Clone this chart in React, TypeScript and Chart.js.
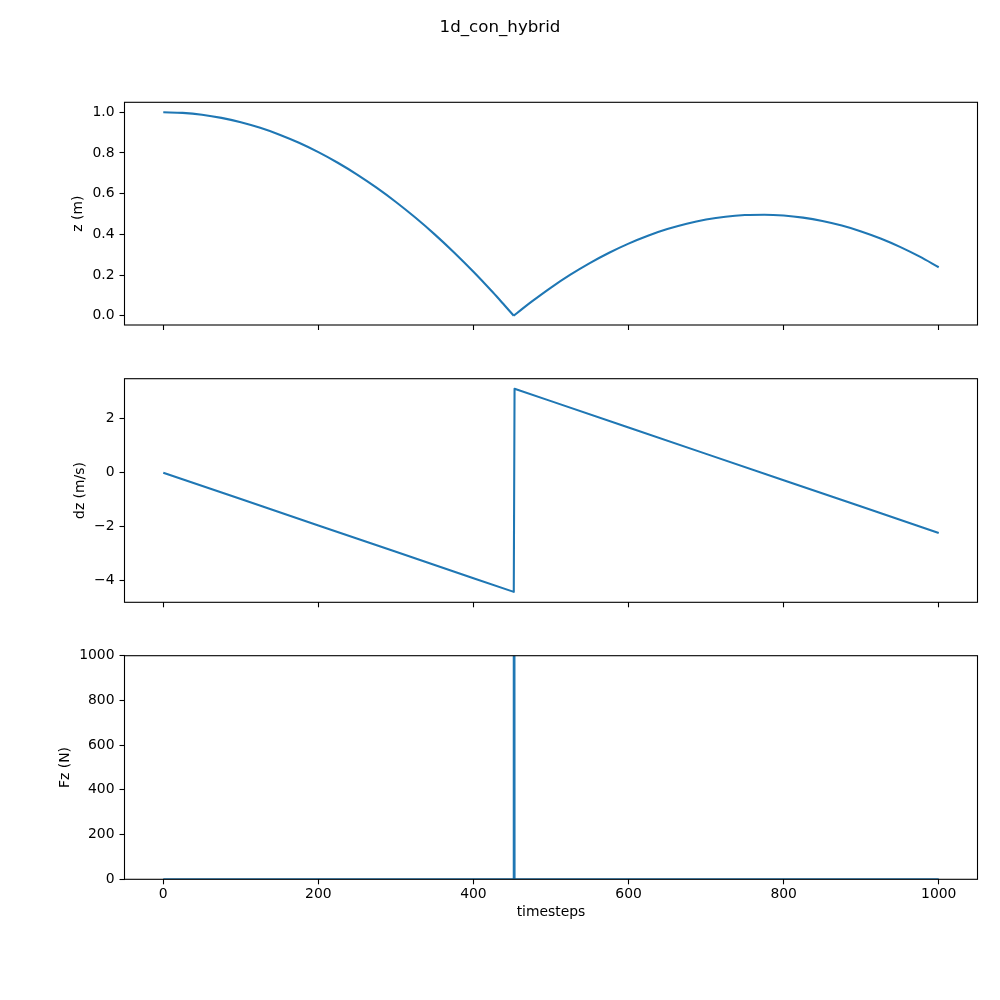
import React, { useEffect, useRef } from 'react';
import { Chart, registerables } from 'chart.js';

Chart.register(...registerables);

const suptitle = '1d_con_hybrid';
const xLabel = 'timesteps';
const xTicks = [0, 200, 400, 600, 800, 1000];

const zLabel = 'z (m)';
const zTicks = [0, 0.2, 0.4, 0.6, 0.8, 1.0];
// falling phase (before the contact)
const zFallSteps = [0, 25, 50, 75, 100, 125, 150, 175, 200, 225, 250, 275, 300, 325, 350, 375, 400, 425, 440, 452];
const zFallValues = [
  1.0, 0.9969, 0.9878, 0.9724, 0.951, 0.9234, 0.8898, 0.8499, 0.804, 0.7519, 0.6938, 0.6294, 0.559, 0.4824, 0.3998,
  0.3109, 0.216, 0.1149, 0.0514, 0.0,
];
// rising / flight phase (after the contact)
const zRiseSteps = [
  452, 465, 475, 500, 525, 550, 575, 600, 625, 650, 675, 700, 725, 750, 775, 800, 825, 850, 875, 900, 925, 950, 975, 1000,
];
const zRiseValues = [
  0.0, 0.0398, 0.0692, 0.1385, 0.2017, 0.2587, 0.3096, 0.3544, 0.3931, 0.4257, 0.4521, 0.4724, 0.4866, 0.4946, 0.4966,
  0.4924, 0.482, 0.4656, 0.443, 0.4143, 0.3795, 0.3385, 0.2914, 0.2382,
];

const dzLabel = 'dz (m/s)';
const dzTicks = [-4, -2, 0, 2];
const dzSteps = [0, 100, 200, 300, 400, 452, 453, 500, 600, 700, 800, 900, 1000];
const dzValues = [0, -0.98, -1.96, -2.94, -3.92, -4.43, 3.12, 2.66, 1.68, 0.7, -0.28, -1.26, -2.24];

const fzLabel = 'Fz (N)';
const fzTicks = [0, 200, 400, 600, 800, 1000];
const fzSteps = [0, 451, 452, 453, 1000];
const fzValues = [0, 0, 7550, 0, 0];

const FONT = "'DejaVu Sans', 'Liberation Sans', sans-serif";
const LINE_COLOR = '#1f77b4';

const framePlugin = {
  id: 'frame',
  afterDatasetsDraw(chart: any) {
    const { ctx, chartArea } = chart;
    const { left, top, right, bottom } = chartArea;
    ctx.save();
    ctx.strokeStyle = '#000';
    ctx.lineWidth = 1.1;
    ctx.strokeRect(left, top, right - left, bottom - top);
    ctx.restore();
  },
};

const suptitlePlugin = {
  id: 'suptitle',
  afterDraw(chart: any) {
    const { ctx } = chart;
    ctx.save();
    ctx.fillStyle = '#000';
    ctx.font = `normal 16.67px ${FONT}`;
    ctx.textAlign = 'center';
    ctx.textBaseline = 'middle';
    ctx.fillText(suptitle, 500, 28);
    ctx.restore();
  },
};

const fmtMinus = (v: number, digits: number) => {
  const s = Math.abs(v).toFixed(digits);
  return v < 0 ? '\u2212' + s : s;
};

type Series = { steps: number[]; values: number[]; smooth: boolean };

type Spec = {
  series: Series[];
  yMin: number;
  yMax: number;
  yTicks: number[];
  yDigits: number;
  yLabel: string;
  yTitleCenter: number;
  areaTop: number;
  areaBottom: number;
  bottomAxis: boolean;
  withTitle: boolean;
};

const AREA_LEFT = 124.5;
const AREA_RIGHT = 977.5;

function buildConfig(spec: Spec): any {
  const tickFont = { family: FONT, size: 13.9, lineHeight: 1.2 };
  const padLeft = spec.yTitleCenter - (13.9 * 1.2) / 2;
  const xHeight = spec.bottomAxis ? 41.7 : 10;
  return {
    type: 'line',
    data: {
      datasets: spec.series.map((s) => ({
        data: s.steps.map((x, i) => ({ x, y: s.values[i] })),
        borderColor: LINE_COLOR,
        borderWidth: 2.08,
        borderJoinStyle: 'round',
        pointRadius: 0,
        fill: false,
        tension: s.smooth ? 0.4 : 0,
        cubicInterpolationMode: s.smooth ? 'monotone' : 'default',
        clip: 0,
      })),
    },
    options: {
      animation: false,
      responsive: false,
      events: [],
      layout: {
        padding: {
          left: padLeft,
          right: 1000 - AREA_RIGHT,
          top: spec.areaTop,
          bottom: 1000 - spec.areaBottom - xHeight,
        },
      },
      plugins: {
        legend: { display: false },
        tooltip: { enabled: false },
        title: { display: false },
      },
      scales: {
        x: {
          type: 'linear',
          min: -50,
          max: 1050,
          afterBuildTicks: (axis: any) => {
            axis.ticks = xTicks.map((v) => ({ value: v }));
          },
          afterFit: (axis: any) => {
            axis.height = xHeight;
          },
          border: { display: false },
          grid: {
            drawOnChartArea: false,
            drawTicks: true,
            tickLength: 5,
            tickColor: '#000',
            tickWidth: 1.1,
          },
          ticks: {
            display: spec.bottomAxis,
            autoSkip: false,
            maxRotation: 0,
            color: '#000',
            padding: 1.5,
            font: tickFont,
            callback: (v: any) => fmtMinus(Number(v), 0),
          },
          title: {
            display: spec.bottomAxis,
            text: xLabel,
            color: '#000',
            font: tickFont,
            padding: { top: 0, bottom: 0 },
          },
        },
        y: {
          type: 'linear',
          min: spec.yMin,
          max: spec.yMax,
          afterBuildTicks: (axis: any) => {
            axis.ticks = spec.yTicks.map((v) => ({ value: v }));
          },
          afterFit: (axis: any) => {
            axis.width = AREA_LEFT - padLeft;
          },
          border: { display: false },
          grid: {
            drawOnChartArea: false,
            drawTicks: true,
            tickLength: 5,
            tickColor: '#000',
            tickWidth: 1.1,
          },
          ticks: {
            autoSkip: false,
            color: '#000',
            padding: 5,
            font: tickFont,
            callback: (v: any) => fmtMinus(Number(v), spec.yDigits),
          },
          title: {
            display: true,
            text: spec.yLabel,
            color: '#000',
            font: tickFont,
            padding: { top: 0, bottom: 0 },
          },
        },
      },
    },
    plugins: spec.withTitle ? [framePlugin, suptitlePlugin] : [framePlugin],
  };
}

const specs: Spec[] = [
  {
    series: [
      { steps: zFallSteps, values: zFallValues, smooth: true },
      { steps: zRiseSteps, values: zRiseValues, smooth: true },
    ],
    yMin: -0.0457,
    yMax: 1.049,
    yTicks: zTicks,
    yDigits: 1,
    yLabel: zLabel,
    yTitleCenter: 78.5,
    areaTop: 102.3,
    areaBottom: 325,
    bottomAxis: false,
    withTitle: true,
  },
  {
    series: [{ steps: dzSteps, values: dzValues, smooth: false }],
    yMin: -4.818,
    yMax: 3.494,
    yTicks: dzTicks,
    yDigits: 0,
    yLabel: dzLabel,
    yTitleCenter: 80.5,
    areaTop: 378.7,
    areaBottom: 602.3,
    bottomAxis: false,
    withTitle: false,
  },
  {
    series: [{ steps: fzSteps, values: fzValues, smooth: false }],
    yMin: 0,
    yMax: 1000,
    yTicks: fzTicks,
    yDigits: 0,
    yLabel: fzLabel,
    yTitleCenter: 65.7,
    areaTop: 655.7,
    areaBottom: 879.3,
    bottomAxis: true,
    withTitle: false,
  },
];

export default function App() {
  const ref0 = useRef<HTMLCanvasElement>(null);
  const ref1 = useRef<HTMLCanvasElement>(null);
  const ref2 = useRef<HTMLCanvasElement>(null);
  const refs = [ref0, ref1, ref2];

  useEffect(() => {
    const charts: Chart[] = [];
    specs.forEach((spec, i) => {
      const canvas = refs[i].current;
      if (canvas) charts.push(new Chart(canvas, buildConfig(spec)));
    });
    return () => {
      charts.forEach((c) => c.destroy());
    };
  }, []);

  const canvasStyle: React.CSSProperties = {
    position: 'absolute',
    left: 0,
    top: 0,
    width: 1000,
    height: 1000,
  };

  return (
    <div
      style={{
        position: 'fixed',
        left: 0,
        top: 0,
        width: 1000,
        height: 1000,
        background: '#fff',
      }}
    >
      {refs.map((r, i) => (
        <canvas key={i} ref={r} width={1000} height={1000} style={canvasStyle} />
      ))}
    </div>
  );
}
